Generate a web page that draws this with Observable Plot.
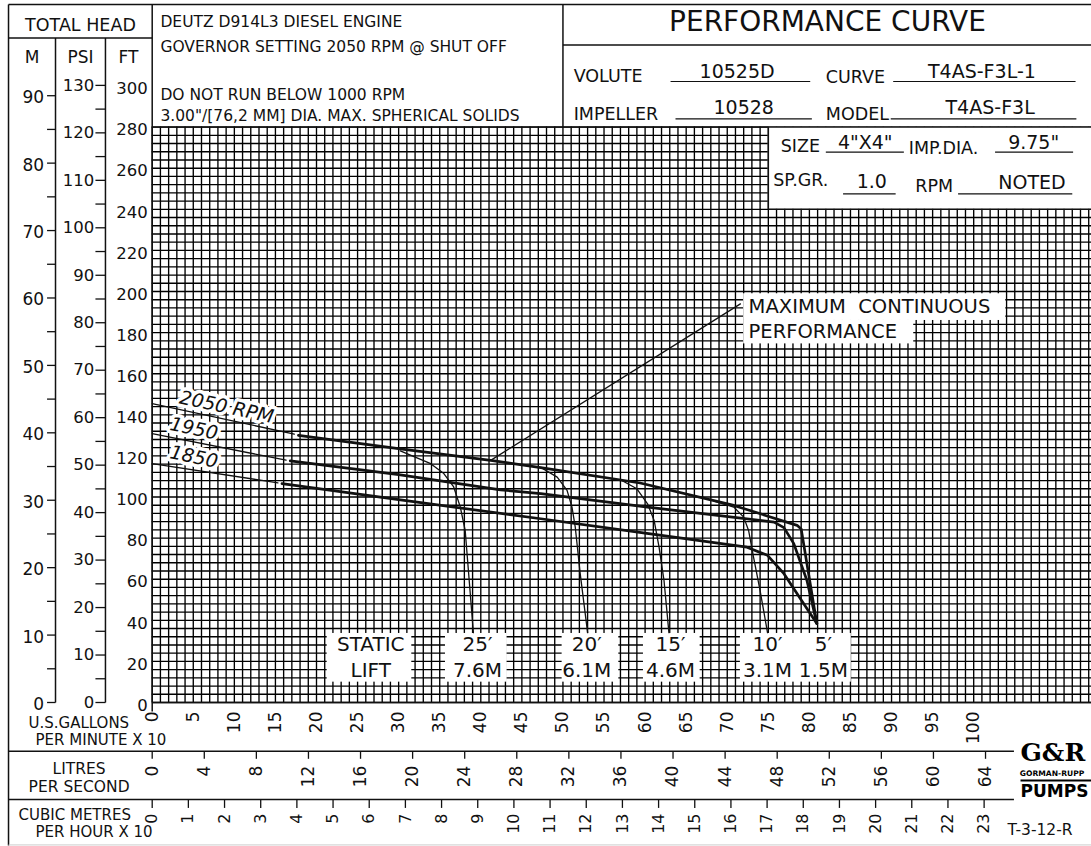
<!DOCTYPE html>
<html><head><meta charset="utf-8">
<script src="https://cdn.jsdelivr.net/npm/d3@7"></script>
<script src="https://cdn.jsdelivr.net/npm/@observablehq/plot@0.6"></script>
<style>
html,body{margin:0;padding:0;background:#fff;}
#chart svg{display:block;}
</style></head><body><div id="chart"></div>
<script>
// ---------------- data (flow in U.S. GPM x 10, head in feet) ----------------
const gpmTicks = [0,5,10,15,20,25,30,35,40,45,50,55,60,65,70,75,80,85,90,95,100];
const lpsTicks = [0,4,8,12,16,20,24,28,32,36,40,44,48,52,56,60,64];
const cmhTicks = [0,1,2,3,4,5,6,7,8,9,10,11,12,13,14,15,16,17,18,19,20,21,22,23];
const ftTicks = [0,20,40,60,80,100,120,140,160,180,200,220,240,260,280,300];
const psiTicks = [0,5,10,15,20,25,30,35,40,45,50,55,60,65,70,75,80,85,90,95,100,105,110,115,120,125,130];
const psiLabels = [0,10,20,30,40,50,60,70,80,90,100,110,120,130];
const mTicks = [0,5,10,15,20,25,30,35,40,45,50,55,60,65,70,75,80,85,90];
const mLabels = [0,10,20,30,40,50,60,70,80,90];

// RPM head curves: thin extrapolated part and solid part
const rpm2050Ext = [[0,145.4],[17.3,130.6]];
const rpm1950Ext = [[0,130.8],[16.3,117.9]];
const rpm1850Ext = [[0,116.2],[15.3,106.9]];
const rpm2050 = [[17.8,130.0],[30.2,123.4],[41.2,117.8],[47.3,114.3],[59.4,106.8],[70.8,95.9],[78.5,86.2],[79.0,84.4],[80.9,38.5]];
const rpm1950 = [[16.8,117.6],[30.0,110.9],[42.4,103.5],[47.3,101.6],[60.3,95.1],[75.7,87.8],[76.9,85.1],[78.1,77.3],[79.7,59.4],[80.9,38.5]];
const rpm1850 = [[15.8,106.5],[30.0,98.7],[47.3,89.4],[60.0,82.4],[72.4,75.6],[74.9,71.6],[76.9,62.7],[80.9,38.5]];

// static-lift system curves
const lift25 = [[30.2,122.4],[33.9,116.2],[35.5,111.4],[36.7,104.9],[37.5,95.2],[38.1,83.7],[39.1,34.0]];
const lift20 = [[47.3,114.4],[49.3,109.7],[50.5,103.2],[51.1,95.1],[51.5,85.3],[52.1,62.7],[53.0,34.0]];
const lift15 = [[57.0,108.4],[59.0,104.0],[60.3,96.7],[61.1,88.6],[61.7,75.6],[62.3,59.4],[62.9,34.0]];
const lift10 = [[68.4,98.0],[70.8,95.1],[72.0,90.2],[72.6,83.7],[73.2,70.7],[74.0,54.5],[74.9,34.0]];
const maxContinuous = [[41.2,117.8],[71.6,194.0]];

const liftLabelsFt = ["25′","20′","15′","10′","5′"];
const liftLabelsM = ["7.6M","6.1M","4.6M","3.1M","1.5M"];
const liftFlowPos = [39.6,52.9,63.1,74.9,81.7];

// unit conversions
const FT_PER_M = 3.2808, FT_PER_PSI = 2.31, GPM10_PER_LPS = 1.585, GPM10_PER_CMH10 = 4.403;

// ---------------- layout (in data units) ----------------
const XMAX = 114.34, FRAME_L = -17.49, FRAME_T = 339.7, BOTTOM = -69.6;
const M_AXIS = -11.77, PSI_AXIS = -5.69;
const ink = "#111";

const gridX = d3.range(0, 115, 1);
const gridY = d3.range(0, 281, 4);

const whiteBoxes = [
  {x1:75, x2:XMAX, y1:240, y2:280},
  {x1:72.0, x2:103.9, y1:185.9, y2:198.9},
  {x1:72.0, x2:92.7, y1:174.5, y2:185.9},
  {x1:21.3, x2:31.6, y1:9.9, y2:33.6},
  {x1:35.7, x2:43.2, y1:9.9, y2:33.6},
  {x1:49.9, x2:56.8, y1:9.9, y2:33.6},
  {x1:59.8, x2:66.7, y1:9.9, y2:33.6},
  {x1:71.6, x2:85.1, y1:9.9, y2:33.6}
];

const segs = [
  {x1:FRAME_L, y1:BOTTOM, x2:FRAME_L, y2:FRAME_T},
  {x1:FRAME_L, y1:FRAME_T, x2:XMAX, y2:FRAME_T},
  {x1:FRAME_L, y1:323.4, x2:0, y2:323.4},
  {x1:M_AXIS, y1:0, x2:M_AXIS, y2:323.4},
  {x1:PSI_AXIS, y1:0, x2:PSI_AXIS, y2:323.4},
  {x1:0, y1:-4.4, x2:0, y2:FRAME_T},
  {x1:0, y1:0, x2:XMAX, y2:0},
  {x1:0, y1:280, x2:XMAX, y2:280},
  {x1:50, y1:280, x2:50, y2:FRAME_T},
  {x1:50, y1:320.0, x2:XMAX, y2:320.0},
  {x1:75, y1:240, x2:75, y2:280},
  {x1:75, y1:240, x2:XMAX, y2:240},
  {x1:FRAME_L, y1:-23.7, x2:104.9, y2:-23.7},
  {x1:FRAME_L, y1:-47.2, x2:104.9, y2:-47.2}
];
const underlines = [
  {x1:63.1, x2:80.1, y:302.2}, {x1:90.2, x2:112.4, y:302.2},
  {x1:63.7, x2:80.3, y:284.0}, {x1:89.9, x2:112.5, y:284.0},
  {x1:82.0, x2:91.5, y:267.8}, {x1:102.6, x2:112.1, y:267.8},
  {x1:84.1, x2:90.5, y:247.5}, {x1:98.1, x2:112.0, y:247.5}
];

const headerLeft = [
  {t:"VOLUTE", x:51.3, y:304.9}, {t:"CURVE", x:82.0, y:304.4},
  {t:"IMPELLER", x:51.3, y:286.4}, {t:"MODEL", x:82.0, y:286.0},
  {t:"SIZE", x:76.5, y:270.7}, {t:"IMP.DIA.", x:92.1, y:269.6},
  {t:"SP.GR.", x:75.6, y:254.0}, {t:"RPM", x:92.9, y:251.0}
];
const headerValues = [
  {t:"10525D", x:71.2, y:306.7}, {t:"T4AS-F3L-1", x:101.0, y:306.7},
  {t:"10528", x:72.0, y:289.3}, {t:"T4AS-F3L", x:102.0, y:289.3},
  {t:"4\"X4\"", x:86.8, y:272.3}, {t:"9.75\"", x:107.3, y:272.1},
  {t:"1.0", x:87.6, y:253.2}, {t:"NOTED", x:107.1, y:253.0}
];
const notes = [
  {t:"DEUTZ D914L3 DIESEL ENGINE", y:331.0},
  {t:"GOVERNOR SETTING 2050 RPM @ SHUT OFF", y:318.9},
  {t:"DO NOT RUN BELOW 1000 RPM", y:295.7},
  {t:"3.00\"/[76,2 MM] DIA. MAX. SPHERICAL SOLIDS", y:285.6}
];

const tag = (arr, name) => arr.map(([x, y]) => ({x, y, name}));
const extLines = [...tag(rpm2050Ext,"2050"), ...tag(rpm1950Ext,"1950"), ...tag(rpm1850Ext,"1850")];
const rpmLines = [...tag(rpm2050,"2050"), ...tag(rpm1950,"1950"), ...tag(rpm1850,"1850")];
const liftLines = [...tag(lift25,"25"), ...tag(lift20,"20"), ...tag(lift15,"15"), ...tag(lift10,"10"), ...tag(maxContinuous,"mc")];

const chart = Plot.plot({
  width: 1091, height: 846,
  marginLeft: 151.7, marginRight: 0, marginTop: 126.6, marginBottom: 144,
  x: {domain: [0, XMAX], axis: null},
  y: {domain: [0, 280], axis: null},
  style: {fontFamily: "DejaVu Sans, sans-serif", background: "white", color: ink},
  marks: [
    // grid paper
    Plot.ruleX(gridX, {y1: 0, y2: 280, stroke: "#000", strokeWidth: 1.35}),
    Plot.ruleY(gridY, {x1: 0, x2: XMAX, stroke: "#000", strokeWidth: 1.35}),
    Plot.rect(whiteBoxes, {x1: "x1", x2: "x2", y1: "y1", y2: "y2", fill: "white"}),
    // frame and table lines
    Plot.link(segs, {x1: "x1", y1: "y1", x2: "x2", y2: "y2", stroke: ink, strokeWidth: 1.5}),
    Plot.link([{x1:FRAME_L,x2:XMAX,y:BOTTOM+0.3}], {x1:"x1", x2:"x2", y1:"y", y2:"y", stroke:"#ccc", strokeWidth:1}),
    Plot.link(underlines, {x1: "x1", x2: "x2", y1: "y", y2: "y", stroke: ink, strokeWidth: 1.2}),
    // curves
    Plot.line(extLines, {x: "x", y: "y", z: "name", stroke: ink, strokeWidth: 1.3}),
    Plot.line(liftLines, {x: "x", y: "y", z: "name", stroke: ink, strokeWidth: 1.3, curve: "linear"}),
    Plot.line(rpmLines, {x: "x", y: "y", z: "name", stroke: ink, strokeWidth: 2.7, strokeLinejoin: "round"}),
    // rpm labels
    Plot.text([{t:"2050 RPM", x:9.05, y:143.7}, {t:"1950", x:5.07, y:133.2}, {t:"1850", x:5.07, y:119.4}],
      {x: "x", y: "y", text: "t", rotate: 12, fontSize: 19, fontStyle: "italic", fill: ink, stroke: "white", strokeWidth: 7}),
    // max continuous label
    Plot.text([{t:"MAXIMUM\u00a0 CONTINUOUS", y:192.4}, {t:"PERFORMANCE", y:180.2}],
      {x: 72.6, y: "y", text: "t", textAnchor: "start", fontSize: 19.5, fill: ink}),
    // static lift labels
    Plot.text(["STATIC"], {x: 26.6, y: 28.2, text: d => d, fontSize: 20, fill: ink}),
    Plot.text(["LIFT"], {x: 26.6, y: 15.3, text: d => d, fontSize: 20, fill: ink}),
    Plot.text(liftLabelsFt, {x: (d, i) => liftFlowPos[i], y: 28.2, text: d => d, fontSize: 20, fill: ink}),
    Plot.text(liftLabelsM, {x: (d, i) => liftFlowPos[i], y: 15.3, text: d => d, fontSize: 20, fill: ink}),
    // left head axes
    Plot.text(ftTicks, {x: -0.55, y: d => d, text: d => String(d), textAnchor: "end", dy: 3, fontSize: 16.5, fill: ink}),
    Plot.link(psiTicks, {x1: -6.91, x2: PSI_AXIS, y1: d => d * FT_PER_PSI, y2: d => d * FT_PER_PSI, stroke: ink, strokeWidth: 1.3}),
    Plot.text(psiLabels, {x: -7.05, y: d => d * FT_PER_PSI, text: d => String(d), textAnchor: "end", fontSize: 16.5, fill: ink}),
    Plot.link(mTicks, {x1: -12.8, x2: M_AXIS, y1: d => d * FT_PER_M, y2: d => d * FT_PER_M, stroke: ink, strokeWidth: 1.3}),
    Plot.text(mLabels, {x: -13.15, y: d => d * FT_PER_M, text: d => String(d), textAnchor: "end", dy: 2, fontSize: 17, fill: ink}),
    // header left
    Plot.text(["TOTAL HEAD"], {x: -8.73, y: 329.4, text: d => d, fontSize: 17.5, fill: ink}),
    Plot.text([{t:"M", x:-14.63}, {t:"PSI", x:-8.73}, {t:"FT", x:-2.9}], {x: "x", y: 313.9, text: "t", fontSize: 17, fill: ink}),
    // notes
    Plot.text(notes, {x: 1.0, y: "y", text: "t", textAnchor: "start", fontSize: 15.5, fill: ink}),
    // title block
    Plot.text(["PERFORMANCE CURVE"], {x: 82.2, y: 331.0, text: d => d, fontSize: 28, fill: ink}),
    Plot.text(headerLeft, {x: "x", y: "y", text: "t", textAnchor: "start", fontSize: 17.5, fill: ink}),
    Plot.text(headerValues, {x: "x", y: "y", text: "t", fontSize: 19, fill: ink}),
    // flow axes
    Plot.text(gpmTicks, {x: d => d, y: -4.4, text: d => String(d), rotate: -90, textAnchor: "end", fontSize: 17, fill: ink}),
    Plot.link(lpsTicks, {x1: d => d * GPM10_PER_LPS, x2: d => d * GPM10_PER_LPS, y1: -23.7, y2: -27.4, stroke: ink, strokeWidth: 1.3}),
    Plot.text(lpsTicks, {x: d => d * GPM10_PER_LPS, y: -30.7, text: d => String(d), rotate: -90, textAnchor: "end", fontSize: 17, fill: ink}),
    Plot.link(cmhTicks, {x1: d => d * GPM10_PER_CMH10, x2: d => d * GPM10_PER_CMH10, y1: -47.2, y2: -51.3, stroke: ink, strokeWidth: 1.3}),
    Plot.text(cmhTicks, {x: d => d * GPM10_PER_CMH10, y: -54.0, text: d => String(d), rotate: -90, textAnchor: "end", fontSize: 16, fill: ink}),
    Plot.text([{t:"U.S.GALLONS", x:-15.06, y:-10.0}, {t:"PER MINUTE X 10", x:-14.2, y:-18.5},
               {t:"CUBIC METRES", x:-16.27, y:-55.0}, {t:"PER HOUR X 10", x:-14.2, y:-63.3}],
      {x: "x", y: "y", text: "t", textAnchor: "start", fontSize: 15, fill: ink}),
    Plot.text([{t:"LITRES", y:-32.6}, {t:"PER SECOND", y:-41.1}], {x: -8.9, y: "y", text: "t", fontSize: 15.5, fill: ink}),
    Plot.text(["T-3-12-R"], {x: 104.1, y: -62.3, text: d => d, textAnchor: "start", fontSize: 15.5, fill: ink}),
    // logo
    Plot.text(["G&R"], {x: 105.7, y: -24.6, text: d => d, textAnchor: "start", fontSize: 25, fontWeight: "bold", fontFamily: "DejaVu Serif", fill: "#000"}),
    Plot.text(["GORMAN-RUPP"], {x: 105.6, y: -34.4, text: d => d, textAnchor: "start", fontSize: 7.6, fontWeight: "bold", fill: "#000"}),
    Plot.link([{x1:105.7, x2:XMAX, y:-38.0}], {x1:"x1", x2:"x2", y1:"y", y2:"y", stroke:"#000", strokeWidth:2}),
    Plot.text(["PUMPS"], {x: 105.7, y: -43.2, text: d => d, textAnchor: "start", fontSize: 17, fontWeight: "bold", fill: "#000"})
  ]
});
document.getElementById("chart").append(chart);
</script>
</body></html>
